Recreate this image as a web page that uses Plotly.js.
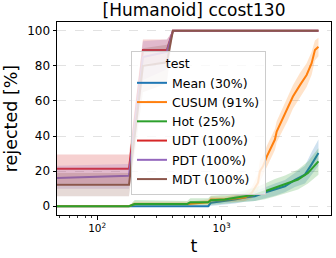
<!DOCTYPE html>
<html>
<head>
<meta charset="utf-8">
<script src="https://cdn.plot.ly/plotly-3.0.1.min.js"></script>
<style>html,body{margin:0;padding:0;background:#fff;}#chart{width:336px;height:258px;}</style>
</head>
<body>
<div id="chart"></div>
<script>
// ---- data ----
const seriesNames = ["Mean (30%)", "CUSUM (91%)", "Hot (25%)", "UDT (100%)", "PDT (100%)", "MDT (100%)"];
const seriesColors = ["#1f77b4", "#ff7f0e", "#2ca02c", "#d62728", "#9467bd", "#8c564b"];

const meanT  = [47, 180, 780, 820, 1060, 1280, 1540, 1850, 2230, 2680, 3230, 3880, 4670, 5300, 6000];
const meanV  = [0, 0, 0, 2, 2.8, 3.8, 4.9, 5.7, 7.8, 9.5, 11.4, 15, 18, 24, 30.3];
const meanLo = [0, 0, 0, 0.5, 1, 1.5, 2.5, 3, 4.5, 6, 8, 11, 13, 18, 23];
const meanHi = [0, 0, 0, 3.5, 4.5, 6, 7.5, 8.5, 11, 13, 15, 19, 23, 31, 38];

const cusumT  = [47, 180, 200, 530, 780, 820, 1060, 1280, 1540, 1750, 1960, 2030, 2150, 2310, 2450, 2680, 2770, 3110, 3410, 3740, 4260, 4820, 5290, 5620, 6000];
const cusumV  = [0, 0, 1.3, 1.3, 2.3, 3.8, 4, 4.4, 5, 7.6, 13.4, 20, 22.7, 28.4, 32, 38, 42.6, 50.2, 55.9, 62.5, 69, 74.8, 81.5, 89, 90.9];
const cusumLo = [0, 0, 0.5, 0.5, 1, 2, 2.5, 2.5, 3, 4.5, 9, 14, 17, 22.5, 26, 32, 36.5, 43.5, 49, 55.5, 62, 68, 75, 83, 85.5];
const cusumHi = [0, 0, 2.5, 2.5, 3.8, 5.5, 5.5, 6.5, 7.5, 11, 18.5, 26, 28.5, 34.5, 38, 44, 48.5, 56.5, 62.5, 69, 76, 81.5, 88, 94.5, 96];

const hotT  = [47, 180, 200, 530, 560, 780, 820, 1060, 1280, 1540, 1850, 2230, 2680, 3230, 4110, 4940, 6000];
const hotV  = [0, 0, 1.3, 1.3, 2.3, 2.3, 3.4, 3.8, 4.8, 5.7, 6.6, 8.5, 10.4, 12.3, 15.2, 19, 25.6];
const hotLo = [0, 0, 0, 0, 0.5, 0.5, 1, 1.5, 2, 2.5, 3, 4, 5.5, 7, 9.5, 13, 18];
const hotHi = [0, 0, 3.5, 3, 4.5, 4.5, 6, 6.5, 7.5, 9, 10.5, 13, 15.5, 17.5, 21, 25.5, 33];

const udtT  = [47, 180, 233, 363, 406, 6000];
const udtV  = [21.3, 21.3, 89, 89, 100, 100];
const udtLo = [13, 13, 81, 82, 100, 100];
const udtHi = [29.5, 29.5, 95, 95, 100, 100];

const pdtT  = [47, 180, 233, 363, 406, 6000];
const pdtV  = [16.1, 17.4, 85, 88, 100, 100];
const pdtLo = [10, 10, 72, 78, 100, 100];
const pdtHi = [23, 24, 94, 95, 100, 100];

const mdtT  = [47, 180, 233, 363, 406, 6000];
const mdtV  = [12.2, 12.2, 80, 82, 100, 100];
const mdtLo = [5.7, 5.7, 65, 70, 100, 100];
const mdtHi = [19, 19, 90, 92, 100, 100];

const yTicks = [0, 20, 40, 60, 80, 100];
const xTicks = [100, 1000];
const xTickText = ["10<sup>2</sup>", "10<sup>3</sup>"];
const xMinorTicks = [50, 60, 70, 80, 90, 200, 300, 400, 500, 600, 700, 800, 900, 2000, 3000, 4000, 5000, 6000];

// ---- build traces ----
const series = [
  [meanT, meanV, meanLo, meanHi],
  [cusumT, cusumV, cusumLo, cusumHi],
  [hotT, hotV, hotLo, hotHi],
  [udtT, udtV, udtLo, udtHi],
  [pdtT, pdtV, pdtLo, pdtHi],
  [mdtT, mdtV, mdtLo, mdtHi]
];
function rgba(hex, a) {
  const r = parseInt(hex.slice(1,3),16), g = parseInt(hex.slice(3,5),16), b = parseInt(hex.slice(5,7),16);
  return `rgba(${r},${g},${b},${a})`;
}
const traces = [];
series.forEach((s, i) => {
  const [t, v, lo, hi] = s;
  traces.push({
    x: t.concat(t.slice().reverse()),
    y: hi.concat(lo.slice().reverse()),
    type: "scatter", mode: "lines", fill: "toself",
    fillcolor: rgba(seriesColors[i], 0.22),
    line: {width: 0}, hoverinfo: "skip", showlegend: false
  });
  traces.push({
    x: t, y: v, type: "scatter", mode: "lines",
    name: seriesNames[i],
    line: {color: seriesColors[i], width: 2}
  });
});

const font = "DejaVu Sans, sans-serif";
const layout = {
  width: 336, height: 258,
  margin: {l: 57, r: 5, t: 22, b: 43},
  paper_bgcolor: "#fff", plot_bgcolor: "#fff",
  font: {family: font, color: "#000", size: 12},
  title: {text: "[Humanoid] ccost130", font: {family: font, size: 17, color: "#000"},
          x: 0.5, xref: "paper", xanchor: "center", y: 1 - 10/258, yref: "container", yanchor: "middle"},
  xaxis: {
    type: "log", range: [Math.log10(47.5), 3.879],
    tickvals: xTicks, ticktext: xTickText, tickfont: {size: 10.5},
    ticks: "outside", ticklen: 3.5, tickwidth: 1, tickcolor: "#000",
    minor: {tickvals: xMinorTicks, ticks: "outside", ticklen: 2, tickwidth: 0.8, tickcolor: "#000", showgrid: false},
    showgrid: false, zeroline: false,
    showline: true, mirror: true, linecolor: "#000", linewidth: 1,
    title: {text: "t", font: {size: 17.5}, standoff: 6}
  },
  yaxis: {
    range: [-5, 105], tickvals: yTicks,
    ticks: "outside", ticklen: 3.5, tickwidth: 1, tickcolor: "#000",
    showgrid: true, gridcolor: "#e2e2e2", griddash: "dash", gridwidth: 1,
    zeroline: false, showline: true, mirror: true, linecolor: "#000", linewidth: 1,
    title: {text: "rejected [%]", font: {size: 17.5}, standoff: 5}
  },
  legend: {
    x: 0.27, y: 0.85, xanchor: "left", yanchor: "top",
    bgcolor: "rgba(255,255,255,0.8)", bordercolor: "#cccccc", borderwidth: 1,
    font: {size: 12.5, family: font},
    title: {text: "\u00a0\u00a0\u00a0\u00a0\u00a0\u00a0\u00a0\u00a0test", font: {size: 12.5, family: font}},
    tracegroupgap: 0
  },
  showlegend: true
};
Plotly.newPlot("chart", traces, layout, {displayModeBar: false, staticPlot: true});
</script>
</body>
</html>
